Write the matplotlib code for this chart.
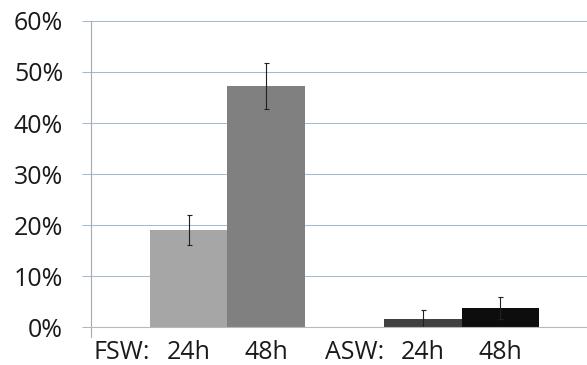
import matplotlib.pyplot as plt
import numpy as np

# Survival per medium and exposure time
groups = ["FSW:", "ASW:"]
times = ["24h", "48h"]
values_24h = [19.0, 1.5]
values_48h = [47.3, 3.7]
err_24h = [2.9, 1.8]
err_48h = [4.5, 2.2]
yticks = [0, 10, 20, 30, 40, 50, 60]

colors_24h = ["#a6a6a6", "#404040"]
colors_48h = ["#808080", "#0d0d0d"]
grid_color = "#a3b9d1"
text_color = "#1a1a1a"

plt.rcParams['font.family'] = ['Open Sans', 'DejaVu Sans']

fig = plt.figure(figsize=(5.87, 3.65), dpi=100)
ax = fig.add_axes([0.155, 0.104, 0.845, 0.8385])

x = np.arange(len(groups))
w = 0.331

ax.bar(x - w/2, values_24h, w, color=colors_24h, zorder=2)
ax.bar(x + w/2, values_48h, w, color=colors_48h, zorder=2)
ax.errorbar(x - w/2, values_24h, yerr=err_24h, fmt='none', ecolor='#202020',
            elinewidth=0.8, capsize=1.8, capthick=0.8, zorder=3)
ax.errorbar(x + w/2, values_48h, yerr=err_48h, fmt='none', ecolor='#202020',
            elinewidth=0.8, capsize=1.8, capthick=0.8, zorder=3)

ax.set_xlim(-0.583, 1.536)
ax.set_ylim(0, 60)
ax.set_yticks(yticks)
ax.set_yticklabels(["{:d}%".format(t) for t in yticks], fontsize=18, color=text_color)

# time labels sit under each bar, medium label just left of the pair
ax.set_xticks(np.concatenate([x - w/2, x + w/2]))
ax.set_xticklabels([times[0]] * len(groups) + [times[1]] * len(groups),
                   fontsize=18, color=text_color)
ax.tick_params(axis='x', length=0, pad=9)
for i, g in enumerate(groups):
    ax.annotate(g, xy=(i - w, 0), xycoords='data', xytext=(0, -9),
                textcoords='offset points', ha='right', va='top',
                fontsize=18, color=text_color)

ax.yaxis.grid(True, color=grid_color, linewidth=0.72, zorder=0, antialiased=False)
ax.tick_params(axis='y', length=6.5, width=0.72, color=grid_color, pad=13.5)

for s in ['top', 'right']:
    ax.spines[s].set_visible(False)
ax.spines['left'].set_color('#a8a8a8')
ax.spines['left'].set_bounds(-2, 60)
ax.spines['left'].set_zorder(4)
ax.spines['bottom'].set_color('#b8b8b8')
ax.spines['bottom'].set_zorder(4)

fig.savefig("out.png", dpi=100)
